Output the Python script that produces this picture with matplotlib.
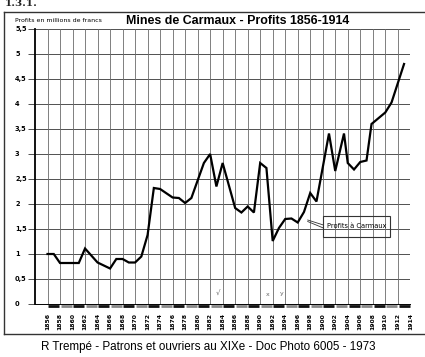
import matplotlib.pyplot as plt
from matplotlib.lines import Line2D
from matplotlib.patches import Rectangle

years = [1856, 1857, 1858, 1861, 1862, 1864, 1866, 1867, 1868, 1869, 1870,
         1871, 1872, 1873, 1874, 1876, 1877, 1878, 1879, 1881, 1882, 1883,
         1884, 1886, 1887, 1888, 1889, 1890, 1891, 1892, 1893, 1894, 1895,
         1896, 1897, 1898, 1899, 1901, 1902, 1903.4, 1904, 1905, 1906, 1907,
         1907.8, 1910, 1911, 1913]
profits = [1.0, 1.0, 0.82, 0.82, 1.11, 0.83, 0.71, 0.90, 0.90, 0.83, 0.83,
           0.95, 1.38, 2.32, 2.30, 2.13, 2.12, 2.02, 2.12, 2.82, 3.0, 2.35,
           2.82, 1.92, 1.83, 1.95, 1.83, 2.82, 2.72, 1.26, 1.52, 1.70, 1.71,
           1.63, 1.84, 2.22, 2.05, 3.41, 2.66, 3.41, 2.82, 2.69, 2.84, 2.87,
           3.60, 3.83, 4.03, 4.80]

x_ticks = list(range(1856, 1915, 2))
y_ticks = [i * 0.5 for i in range(12)]
y_labels = ['0', '0,5', '1', '1,5', '2', '2,5', '3', '3,5', '4', '4,5', '5', '5,5']

W, H = 425, 357
fig = plt.figure(figsize=(W / 100, H / 100), dpi=100)
fig.patch.set_facecolor('white')
ax = fig.add_axes([35 / W, 1 - 304 / H, (410.3 - 35) / W, (304 - 29) / H])

ax.set_xlim(1854, 1914)
ax.set_ylim(0, 5.5)

# grid
for yv in y_ticks[1:]:
    ax.axhline(yv, color='#505050', lw=0.7, zorder=1)
for xv in x_ticks:
    ax.axvline(xv, color='#6a6a6a', lw=0.6, zorder=1)

# bottom band, alternating dark / light segments
for k in range(len(x_ticks) - 1):
    col = '#111111' if k % 2 == 0 else '#888888'
    ax.hlines(-0.035, x_ticks[k] + 0.12, x_ticks[k + 1] - 0.12, color=col,
              lw=2.0, clip_on=False, zorder=3, capstyle='butt')

ax.plot(years, profits, color='black', lw=1.6, solid_joinstyle='miter', zorder=4)

ax.spines['top'].set_visible(False)
ax.spines['right'].set_visible(False)
ax.spines['left'].set_linewidth(1.3)
ax.spines['bottom'].set_linewidth(0.7)

ax.set_yticks(y_ticks)
ax.set_yticklabels(y_labels, fontsize=4.8, fontweight='bold')
for lab in ax.get_yticklabels():
    lab.set_ha('left')
ax.tick_params(axis='y', length=5, width=0.7, color='#505050', pad=9.4)

ax.set_xticks(x_ticks)
ax.set_xticklabels([str(y) for y in x_ticks], rotation=90, fontsize=4.4,
                   fontweight='bold')
ax.tick_params(axis='x', length=0, pad=6.5)

# annotation box
ax.add_patch(Rectangle((1900.1, 1.34), 10.7, 0.43, fill=False, lw=0.8,
                       edgecolor='#333333', zorder=5))
ax.text(1905.5, 1.555, 'Profits à Carmaux', fontsize=4.8, ha='center',
        va='center', zorder=6)
ax.plot([1897.6, 1900.1], [1.68, 1.58], color='#333333', lw=0.6, zorder=5)
ax.plot([1897.6, 1900.1], [1.65, 1.52], color='#333333', lw=0.6, zorder=5)

# pencil marks
ax.text(1883.3, 0.2, '√', fontsize=5, color='#666666', ha='center', va='center')
ax.text(1891.2, 0.19, 'x', fontsize=4.5, color='#666666', ha='center', va='center')
ax.text(1893.5, 0.22, 'y', fontsize=4.5, color='#666666', ha='center', va='center')

# texts around the chart
fig.text(15 / W, 1 - 20.5 / H, 'Profits en millions de francs', fontsize=4.5,
         ha='left', va='center')
fig.text(238 / W, 1 - 20.7 / H, 'Mines de Carmaux - Profits 1856-1914',
         family='Liberation Sans', fontweight='bold',
         fontsize=8.9, ha='center', va='center')
fig.text(5 / W, 1 - 6 / H, '1.3.1.', family='DejaVu Serif', fontweight='bold',
         fontsize=7.5, ha='left', va='baseline', color='#222222')
fig.text(208.5 / W, 1 - 347 / H,
         'R Trempé - Patrons et ouvriers au XIXe - Doc Photo 6005 - 1973',
         family='Liberation Sans', fontsize=8.4, ha='center', va='center')

# outer frame
frame_col = '#333333'
fig.add_artist(Line2D([4 / W, 1.0], [1 - 11.5 / H, 1 - 11.5 / H], color=frame_col, lw=1.0))
fig.add_artist(Line2D([4 / W, 1.0], [1 - 334 / H, 1 - 334 / H], color=frame_col, lw=1.0))
fig.add_artist(Line2D([4 / W, 4 / W], [1 - 11.5 / H, 1 - 334 / H], color=frame_col, lw=1.0))

fig.savefig('out.png', dpi=100)
